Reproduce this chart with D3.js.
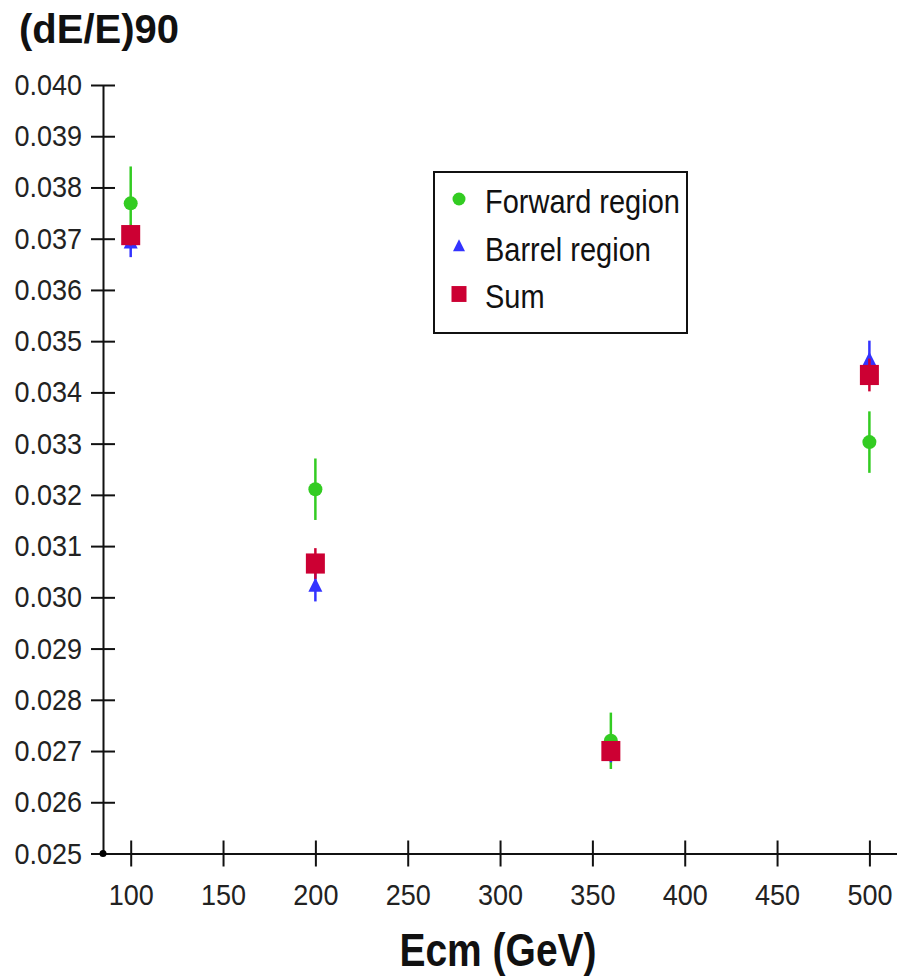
<!DOCTYPE html>
<html>
<head>
<meta charset="utf-8">
<script src="https://cdn.jsdelivr.net/npm/d3@7"></script>
<style>
  body { margin: 0; background: #fff; }
  svg { display: block; font-family: "Liberation Sans", Arial, sans-serif; }
</style>
</head>
<body>
<svg id="chart" width="897" height="977"></svg>
<script>
// Ecm values (GeV) and (dE/E)90 per region
const energies = [100, 200, 360, 500];
const forwardVals = [0.03769, 0.03211, 0.02720, 0.03303];
const forwardErr  = [0.00072, 0.00060, 0.00055, 0.00060];
const barrelVals  = [0.03692, 0.03022, 0.02698, 0.03463];
const barrelErr   = [0.00028, 0.00030, 0.00020, 0.00038];
const sumVals     = [0.03707, 0.03066, 0.02700, 0.03434];
const sumErr      = [0.00020, 0.00030, 0.00015, 0.00032];

const xTicks = [100, 150, 200, 250, 300, 350, 400, 450, 500];
const yTicks = d3.range(0.025, 0.04001, 0.001);

const series = [
  { name: 'Forward region', vals: forwardVals, err: forwardErr, color: '#33cc22', shape: 'circle' },
  { name: 'Barrel region',  vals: barrelVals,  err: barrelErr,  color: '#3333ff', shape: 'triangle' },
  { name: 'Sum',            vals: sumVals,     err: sumErr,     color: '#cc0033', shape: 'square' }
];

var svg = d3.select('#chart');

var x = d3.scaleLinear().domain([85, 515]).range([103, 897.1]);
var y = d3.scaleLinear().domain([0.025, 0.040]).range([853.5, 85]);

// y axis
var yAxis = d3.axisLeft(y)
  .tickValues(yTicks)
  .tickFormat(d3.format('.3f'))
  .tickSizeInner(12)
  .tickSizeOuter(0)
  .tickPadding(9);

var yG = svg.append('g')
  .attr('transform', `translate(${x(85)},0)`)
  .call(yAxis);

// x axis
var xAxis = d3.axisBottom(x)
  .tickValues(xTicks)
  .tickSizeInner(13)
  .tickSizeOuter(0)
  .tickPadding(15);

var xG = svg.append('g')
  .attr('transform', `translate(0,${y(0.025)})`)
  .call(xAxis);

// ticks cross the axis line on both sides
yG.selectAll('.tick line').attr('x1', 12);
xG.selectAll('.tick line').attr('y1', -13);

[xG, yG].forEach(g => {
  g.select('.domain').attr('stroke', '#111').attr('stroke-width', 2);
  g.selectAll('.tick line').attr('stroke', '#111').attr('stroke-width', 2);
  g.selectAll('.tick text')
    .attr('fill', '#222')
    .style('font-size', '27px')
    .style('font-family', '"Liberation Sans", Arial, sans-serif');
});
yG.selectAll('.tick text').attr('transform', 'scale(1,1.1)');
xG.selectAll('.tick text').attr('transform', 'scale(1,1.1)');

// origin dot
svg.append('circle')
  .attr('cx', x(85)).attr('cy', y(0.025)).attr('r', 3.5)
  .attr('fill', '#000');

// markers
function drawShape(g, shape, cx, cy, s, color) {
  if (shape === 'circle') {
    g.append('circle').attr('cx', cx).attr('cy', cy).attr('r', s * 0.5).attr('fill', color);
  } else if (shape === 'triangle') {
    g.append('path')
      .attr('d', `M${cx},${cy - s * 0.6}L${cx + s * 0.5},${cy + s * 0.4}L${cx - s * 0.5},${cy + s * 0.4}Z`)
      .attr('fill', color);
  } else {
    g.append('rect').attr('x', cx - s * 0.5).attr('y', cy - s * 0.53)
      .attr('width', s).attr('height', s * 1.06).attr('fill', color);
  }
}

var plotG = svg.append('g');
var sizes = { circle: 14, triangle: 14, square: 19 };

series.forEach(s => {
  var g = plotG.append('g');
  energies.forEach((e, i) => {
    g.append('line')
      .attr('x1', x(e)).attr('x2', x(e))
      .attr('y1', y(s.vals[i] + s.err[i]))
      .attr('y2', y(s.vals[i] - s.err[i]))
      .attr('stroke', s.color).attr('stroke-width', 2.5);
    drawShape(g, s.shape, x(e), y(s.vals[i]), sizes[s.shape], s.color);
  });
});

// legend
var leg = svg.append('g');
leg.append('rect')
  .attr('x', 434).attr('y', 172).attr('width', 253).attr('height', 161)
  .attr('fill', '#fff').attr('stroke', '#111').attr('stroke-width', 2);

var legSizes = { circle: 13, triangle: 12, square: 15 };
series.forEach((s, i) => {
  var cy = 199 + i * 47.5;
  drawShape(leg, s.shape, 459, cy, legSizes[s.shape], s.color);
  leg.append('text')
    .attr('transform', `translate(485,${cy + 14}) scale(1,1.12)`)
    .attr('fill', '#111')
    .style('font-size', '29px')
    .text(s.name);
});

// titles
svg.append('text')
  .attr('x', 19).attr('y', 43)
  .attr('fill', '#111')
  .style('font-size', '40px')
  .style('font-weight', 'bold')
  .text('(dE/E)90');

svg.append('text')
  .attr('transform', 'translate(498,966) scale(1,1.18)')
  .attr('text-anchor', 'middle')
  .attr('fill', '#111')
  .style('font-size', '39px')
  .style('font-weight', 'bold')
  .text('Ecm (GeV)');
</script>
</body>
</html>
